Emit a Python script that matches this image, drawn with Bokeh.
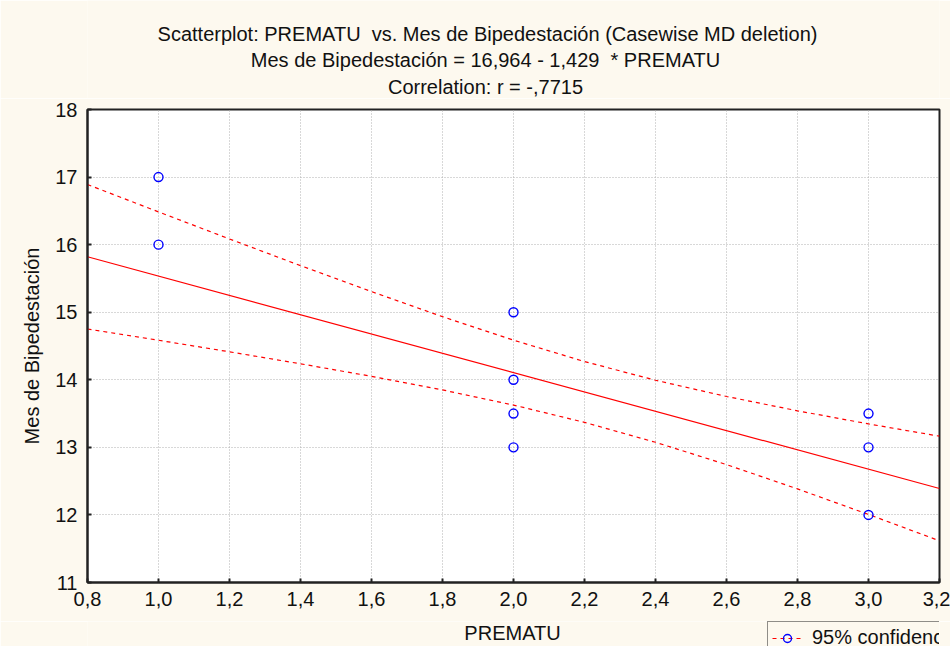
from bokeh.plotting import figure
from bokeh.models import (Range1d, SingleIntervalTicker, CustomJSTickFormatter, Label,
                          Legend, LegendItem)
from bokeh.layouts import column
from bokeh.embed import file_html
from bokeh.resources import INLINE

# --- data ---
prematu = [1.0, 1.0, 2.0, 2.0, 2.0, 2.0, 3.0, 3.0, 3.0]
mes_bip = [17.0, 16.0, 15.0, 14.0, 13.5, 13.0, 13.5, 13.0, 12.0]

fit_intercept = 16.964
fit_slope = -1.429

band_x = [0.8, 1.0, 1.2, 1.4, 1.6, 1.8, 2.0, 2.2, 2.4, 2.6, 2.8, 3.0, 3.2]
band_upper = [16.890, 16.485, 16.084, 15.689, 15.305, 14.934, 14.586, 14.270,
              13.993, 13.753, 13.541, 13.347, 13.165]
band_lower = [14.752, 14.585, 14.414, 14.237, 14.051, 13.850, 13.626, 13.370,
              13.075, 12.745, 12.385, 12.007, 11.617]

x_start, x_end = 0.8, 3.2
y_start, y_end = 11, 18

title_lines = [
    "Scatterplot: PREMATU\u00a0 vs. Mes de Bipedestación (Casewise MD deletion)",
    "Mes de Bipedestación = 16,964 - 1,429\u00a0 * PREMATU",
    "Correlation: r = -,7715",
]
x_label = "PREMATU"
y_label = "Mes de Bipedestación"
legend_label = "95% confidence"

FONT = "Liberation Sans"
FS = "20px"
TXT = "#111111"
BG = "#FDF9EF"
W = 950
FRAME_L, FRAME_R = 87, 939          # frame edges in page pixels (shared by all rows)
TOP_H, MAIN_H, BOT_H = 98, 523, 25


def strip(h):
    # strips share the main plot's frame edges; their x range is in page pixels
    f = figure(width=W, height=h, output_backend="svg", toolbar_location=None,
               x_range=Range1d(FRAME_L, FRAME_R), y_range=Range1d(h, 0),
               x_axis_type=None, y_axis_type=None,
               min_border_left=FRAME_L, min_border_right=W - FRAME_R,
               min_border_top=0, min_border_bottom=0,
               background_fill_color=BG, border_fill_color=BG)
    f.outline_line_color = None
    f.title = None
    f.grid.visible = False
    return f


# ---- title strip ----
top = strip(TOP_H)
for txt, (tx, ty) in zip(title_lines, [(487, 33), (485, 59), (485, 86)]):
    top.add_layout(Label(x=tx, y=ty, text=txt, text_align="center", text_baseline="middle",
                         text_font=FONT, text_font_size=FS, text_color=TXT))

# ---- main plot ----
p = figure(width=W, height=MAIN_H, output_backend="svg", toolbar_location=None,
           x_range=Range1d(x_start, x_end), y_range=Range1d(y_start, y_end),
           min_border_left=FRAME_L, min_border_right=W - FRAME_R,
           min_border_top=11, min_border_bottom=39,
           background_fill_color="white", border_fill_color=BG)
p.title = None
p.outline_line_color = "#222222"
p.outline_line_width = 2

p.xaxis.ticker = SingleIntervalTicker(interval=0.2)
p.yaxis.ticker = SingleIntervalTicker(interval=1)
p.xaxis.formatter = CustomJSTickFormatter(code="return tick.toFixed(1).replace('.', ',');")
p.yaxis.formatter = CustomJSTickFormatter(code="return tick.toFixed(0);")
for ax in (p.xaxis[0], p.yaxis[0]):
    ax.axis_line_color = "#222222"
    ax.axis_line_width = 2
    ax.major_tick_in = 4
    ax.major_tick_out = 0
    ax.minor_tick_in = 0
    ax.minor_tick_out = 0
    ax.major_tick_line_color = "#222222"
    ax.major_tick_line_width = 2
    ax.major_label_text_font = FONT
    ax.major_label_text_font_size = FS
    ax.major_label_text_color = TXT
    ax.axis_label_text_font = FONT
    ax.axis_label_text_font_size = FS
    ax.axis_label_text_font_style = "normal"
    ax.axis_label_text_color = TXT
p.yaxis.axis_label = y_label
p.xaxis.major_label_standoff = 9
p.yaxis.major_label_standoff = 10
p.yaxis.axis_label_standoff = 9

p.grid.grid_line_color = "#B0B0B0"
p.grid.grid_line_dash = "1 2"
p.grid.grid_line_width = 1

fit_x = [x_start, x_end]
fit_y = [fit_intercept + fit_slope * v for v in fit_x]
p.line(fit_x, fit_y, line_color="red", line_width=1.2)

p.line(band_x, band_upper, line_color="red", line_width=1.2, line_dash="4 4")
p.line(band_x, band_lower, line_color="red", line_width=1.2, line_dash="4 4")

p.scatter(prematu, mes_bip, marker="circle", size=9, fill_color=None,
          line_color="blue", line_width=1.4)

# ---- bottom strip: x-axis title and legend ----
bot = strip(BOT_H)
bot.add_layout(Label(x=512, y=11, text=x_label, text_align="center", text_baseline="middle",
                     text_font=FONT, text_font_size=FS, text_color=TXT))
# legend proxies (same series; they fall outside this strip's pixel range, so only
# their legend swatches show)
lg_line = bot.line(band_x, band_upper, line_color="red", line_width=1.2, line_dash="4 4")
lg_pts = bot.scatter(prematu, mes_bip, marker="circle", size=8, fill_color=None,
                     line_color="blue", line_width=1.4)
legend = Legend(items=[LegendItem(label=legend_label, renderers=[lg_line, lg_pts])],
                location=(767 - FRAME_L, -8), label_text_font=FONT, label_text_font_size=FS,
                label_text_color=TXT, border_line_color="#222222", border_line_width=1,
                background_fill_color=BG, background_fill_alpha=1.0,
                glyph_width=30, padding=4, margin=0, label_standoff=10)
bot.add_layout(legend, "center")

layout = column(top, p, bot, spacing=0)
open("out.html", "w").write(file_html(layout, INLINE))
